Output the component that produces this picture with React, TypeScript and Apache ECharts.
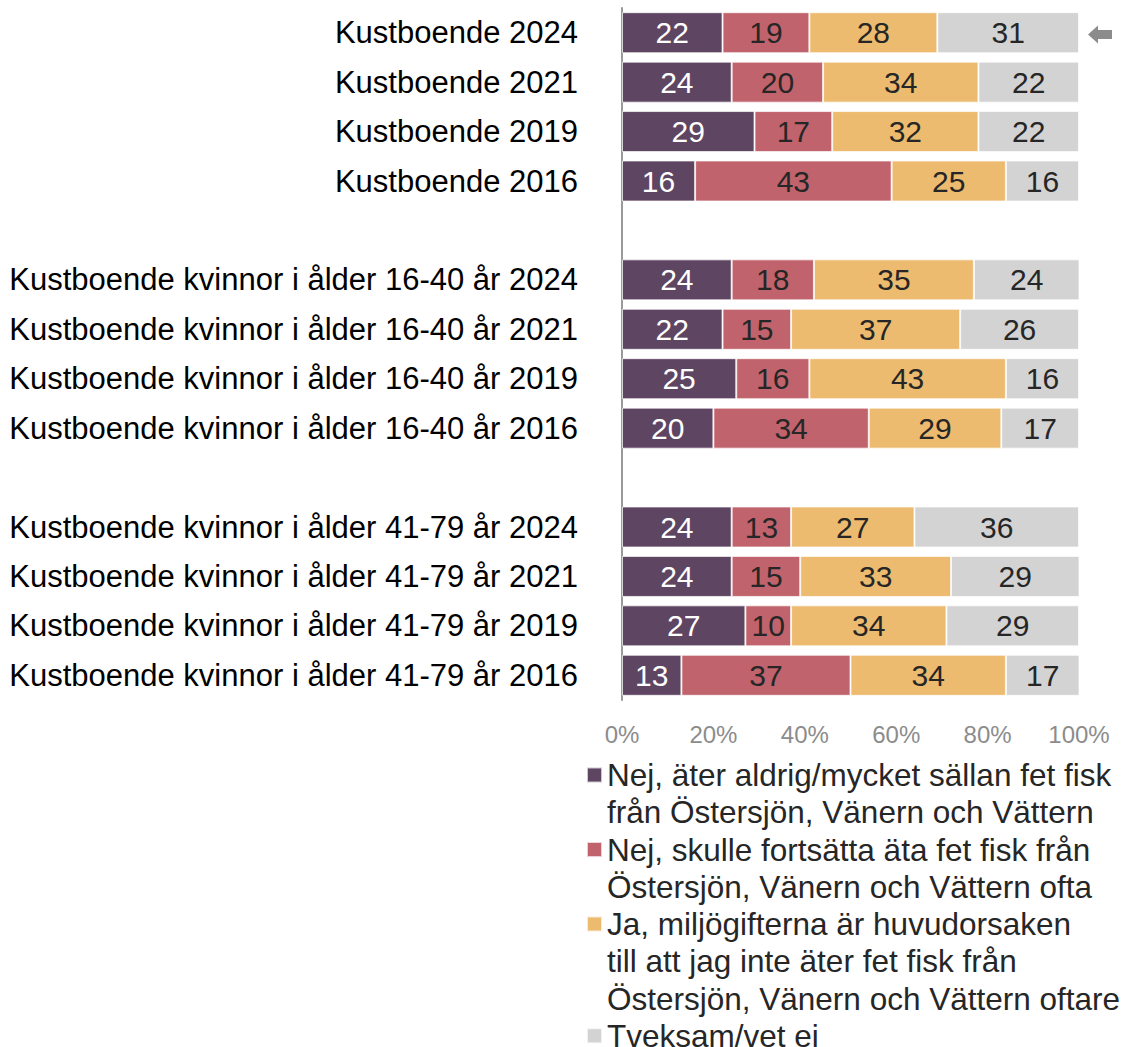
import React, { useEffect, useRef } from "react";
import * as echarts from "echarts";

const categories = [
  "Kustboende 2024",
  "Kustboende 2021",
  "Kustboende 2019",
  "Kustboende 2016",
  " ",
  "Kustboende kvinnor i ålder 16-40 år 2024",
  "Kustboende kvinnor i ålder 16-40 år 2021",
  "Kustboende kvinnor i ålder 16-40 år 2019",
  "Kustboende kvinnor i ålder 16-40 år 2016",
  "  ",
  "Kustboende kvinnor i ålder 41-79 år 2024",
  "Kustboende kvinnor i ålder 41-79 år 2021",
  "Kustboende kvinnor i ålder 41-79 år 2019",
  "Kustboende kvinnor i ålder 41-79 år 2016",
];

const seriesNames = [
  "Nej, äter aldrig/mycket sällan fet fisk från Östersjön, Vänern och Vättern",
  "Nej, skulle fortsätta äta fet fisk från Östersjön, Vänern och Vättern ofta",
  "Ja, miljögifterna är huvudorsaken till att jag inte äter fet fisk från Östersjön, Vänern och Vättern oftare",
  "Tveksam/vet ej",
];

const legendLabels = [
  "Nej, äter aldrig/mycket sällan fet fisk\nfrån Östersjön, Vänern och Vättern",
  "Nej, skulle fortsätta äta fet fisk från\nÖstersjön, Vänern och Vättern ofta",
  "Ja, miljögifterna är huvudorsaken\ntill att jag inte äter fet fisk från\nÖstersjön, Vänern och Vättern oftare",
  "Tveksam/vet ej",
];

const neverEat = [22, 24, 29, 16, null, 24, 22, 25, 20, null, 24, 24, 27, 13];
const continueEat = [19, 20, 17, 43, null, 18, 15, 16, 34, null, 13, 15, 10, 37];
const toxinsMain = [28, 34, 32, 25, null, 35, 37, 43, 29, null, 27, 33, 34, 34];
const unsure = [31, 22, 22, 16, null, 24, 26, 16, 17, null, 36, 29, 29, 17];

const xTicks = [0, 20, 40, 60, 80, 100];

const colors = ["#5E4562", "#C1636C", "#EDBB6F", "#D3D3D3"];
const labelColors = ["#ffffff", "#262626", "#262626", "#262626"];

const FONT = "'Liberation Sans', Arial, Helvetica, sans-serif";

export default function App() {
  const ref = useRef<HTMLDivElement>(null);

  useEffect(() => {
    if (!ref.current) return;
    const chart = echarts.init(ref.current, undefined, { renderer: "svg" });
    const values = [neverEat, continueEat, toxinsMain, unsure];

    const lh = 37.3;
    const firstLineCenters = [775, 849.6, 924, 1035.8];

    const legends = seriesNames.map((name, i) => {
      const lines = legendLabels[i].split("\n").length;
      // prepend empty lines so that the first real line sits level with the icon
      const text = "\n".repeat(lines - 1) + legendLabels[i];
      return {
        show: true,
        orient: "vertical" as const,
        left: 586,
        top: firstLineCenters[i] - lh / 2 - (lines - 1) * lh,
        padding: 0,
        itemWidth: 15,
        itemHeight: 15,
        icon: "rect",
        selectedMode: false,
        data: [name],
        formatter: () => text,
        textStyle: {
          fontFamily: FONT,
          fontSize: 31.5,
          color: "#262626",
          lineHeight: lh,
        },
      };
    });

    chart.setOption({
      animation: false,
      textStyle: { fontFamily: FONT },
      legend: legends,
      grid: { left: 622, right: 49, top: 8, bottom: 347, containLabel: false },
      xAxis: {
        type: "value",
        min: xTicks[0],
        max: xTicks[xTicks.length - 1],
        interval: 20,
        axisLine: { show: false },
        axisTick: { show: false },
        splitLine: { show: false },
        axisLabel: {
          formatter: "{value}%",
          color: "#8c8c8c",
          fontSize: 24,
          fontFamily: FONT,
          margin: 22,
        },
      },
      yAxis: {
        type: "category",
        inverse: true,
        data: categories,
        axisLine: { show: true, lineStyle: { color: "#9a9a9a", width: 2 } },
        axisTick: { show: false },
        axisLabel: {
          color: "#000000",
          fontSize: 31,
          fontFamily: FONT,
          margin: 44,
        },
      },
      series: seriesNames.map((name, i) => ({
        name,
        type: "bar",
        stack: "total",
        barCategoryGap: "17%",
        data: values[i],
        itemStyle: {
          color: colors[i],
          borderColor: "rgba(255,255,255,0.7)",
          borderWidth: 1,
        },
        label: {
          show: true,
          position: "inside",
          color: labelColors[i],
          fontSize: 30,
          fontFamily: FONT,
          formatter: "{c}",
        },
      })),
      graphic: [
        {
          type: "polygon",
          shape: {
            points: [
              [1088, 34.5],
              [1098, 25.5],
              [1098, 30],
              [1112, 30],
              [1112, 39],
              [1098, 39],
              [1098, 43.5],
            ],
          },
          style: { fill: "#8c8c8c" },
        },
      ],
    });

    return () => chart.dispose();
  }, []);

  return (
    <div
      ref={ref}
      style={{ position: "absolute", left: 0, top: 0, width: 1128, height: 1047 }}
    />
  );
}
